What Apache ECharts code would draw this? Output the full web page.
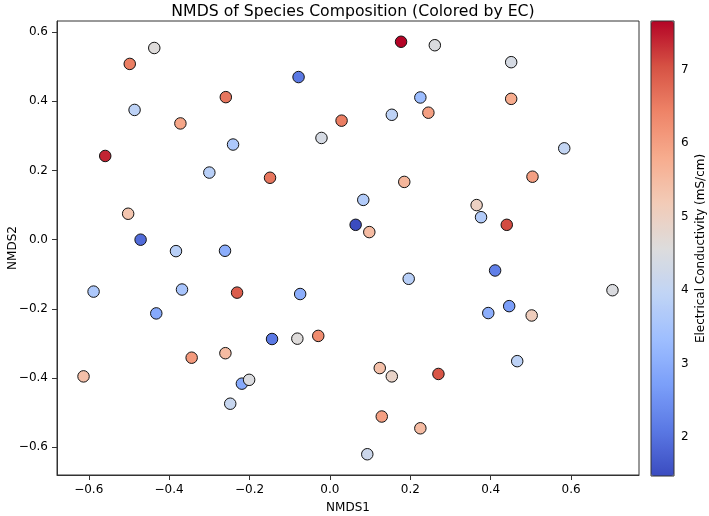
<!DOCTYPE html>
<html>
<head>
<meta charset="utf-8">
<script src="https://cdn.jsdelivr.net/npm/echarts@6/dist/echarts.min.js"></script>
<style>
  html, body { margin: 0; padding: 0; background: #fff; }
  #chart { width: 709px; height: 516px; }
</style>
</head>
<body>
<div id="chart"></div>
<script>
// NMDS coordinates and electrical conductivity per sample
const nmds1 = [
  -0.613, -0.588, -0.559, -0.498, -0.502, -0.486, -0.471, -0.437, -0.432, -0.383,
  -0.372, -0.368, -0.344, -0.300, -0.259, -0.261, -0.260, -0.241, -0.231, -0.248,
  -0.219, -0.201, -0.149, -0.144, -0.078, -0.074, -0.081, -0.021, -0.029, 0.029,
  0.064, 0.083, 0.098, 0.093, 0.124, 0.129, 0.154, 0.154, 0.177, 0.185,
  0.196, 0.225, 0.225, 0.245, 0.261, 0.270, 0.365, 0.376, 0.394, 0.411,
  0.440, 0.446, 0.451, 0.451, 0.466, 0.504, 0.502, 0.583, 0.703
];
const nmds2 = [
  -0.395, -0.150, 0.242, 0.508, 0.075, 0.375, 0.000, 0.554, -0.213, -0.033,
  0.336, -0.144, -0.341, 0.194, 0.412, -0.032, -0.328, 0.275, -0.153, -0.474,
  -0.416, -0.405, 0.179, -0.287, 0.470, -0.157, -0.286, 0.294, -0.278, 0.344,
  0.043, 0.115, 0.022, -0.620, -0.371, -0.511, -0.395, 0.361, 0.572, 0.167,
  -0.113, 0.411, -0.545, 0.367, 0.562, -0.388, 0.100, 0.065, -0.212, -0.089,
  0.043, -0.192, 0.513, 0.407, -0.351, 0.182, -0.219, 0.264, -0.146
];
const ec = [
  5.4, 3.6, 7.4, 6.5, 5.3, 3.9, 1.9, 4.6, 2.9, 3.8,
  5.9, 3.5, 6.1, 3.8, 6.6, 3.0, 5.5, 3.6, 6.9, 4.1,
  2.9, 4.5, 6.6, 2.1, 2.1, 3.0, 4.6, 4.4, 6.3, 6.5,
  1.47, 3.7, 5.5, 4.2, 5.4, 6.0, 4.9, 3.9, 7.66, 5.6,
  3.8, 3.3, 5.5, 6.0, 4.5, 7.0, 5.0, 3.7, 3.0, 2.2,
  7.1, 2.7, 4.4, 5.8, 3.9, 6.0, 5.1, 4.0, 4.5
];
const xTicks = [-0.6, -0.4, -0.2, 0, 0.2, 0.4, 0.6];
const yTicks = [-0.6, -0.4, -0.2, 0, 0.2, 0.4, 0.6];
const ecTicks = [2, 3, 4, 5, 6, 7];
const ecMin = 1.47;
const ecMax = 7.66;

const coolwarm = [
  '#3b4cc0', '#5a78e4', '#7b9ff9', '#9ebeff', '#c0d4f5', '#dddcdc',
  '#f2cbb7', '#f7ac8e', '#ee8468', '#d65244', '#b40426'
];

const points = nmds1.map((x, i) => [x, nmds2[i], ec[i]]);

function fmt(v) {
  const s = Math.abs(v).toFixed(1);
  return v < 0 ? '\u2212' + s : s;
}

const font = 'DejaVu Sans';
const axisColor = '#333';

const chart = echarts.init(document.getElementById('chart'));
chart.setOption({
  animation: false,
  textStyle: { fontFamily: font },
  title: {
    text: 'NMDS of Species Composition (Colored by EC)',
    left: 348,
    top: -1,
    textAlign: 'center',
    textStyle: { fontFamily: font, fontSize: 15.7, fontWeight: 'normal', color: '#000' }
  },
  grid: [
    { left: 57, top: 21, width: 582, height: 454, show: true, borderColor: axisColor, borderWidth: 1, backgroundColor: 'transparent', z: 10, outerBoundsMode: 'none', containLabel: false },
    { left: 651, top: 21, width: 23, height: 455, show: true, borderColor: axisColor, borderWidth: 1, backgroundColor: 'transparent', z: 10, outerBoundsMode: 'none', containLabel: false }
  ],
  xAxis: [
    {
      gridIndex: 0,
      type: 'value',
      min: -0.679,
      max: 0.769,
      name: 'NMDS1',
      nameLocation: 'middle',
      nameGap: 27,
      nameMoveOverlap: false,
      nameTextStyle: { fontFamily: font, fontSize: 12, color: '#000' },
      splitLine: { show: false },
      axisLine: { show: true, onZero: false, lineStyle: { color: axisColor } },
      axisTick: { show: true, inside: false, length: 5, customValues: xTicks, lineStyle: { color: axisColor } },
      axisLabel: { customValues: xTicks, margin: 9, fontSize: 12, color: '#000', fontFamily: font, formatter: fmt }
    },
    { gridIndex: 1, type: 'value', min: 0, max: 1, show: false }
  ],
  yAxis: [
    {
      gridIndex: 0,
      type: 'value',
      min: -0.680,
      max: 0.632,
      name: 'NMDS2',
      nameLocation: 'middle',
      nameGap: 38,
      nameMoveOverlap: false,
      nameRotate: 90,
      nameTextStyle: { fontFamily: font, fontSize: 12, color: '#000' },
      splitLine: { show: false },
      axisLine: { show: true, onZero: false, lineStyle: { color: axisColor } },
      axisTick: { show: true, inside: false, length: 5, customValues: yTicks, lineStyle: { color: axisColor } },
      axisLabel: { customValues: yTicks, margin: 9, fontSize: 12, color: '#000', fontFamily: font, formatter: fmt }
    },
    {
      gridIndex: 1,
      type: 'value',
      position: 'right',
      min: ecMin,
      max: ecMax,
      name: 'Electrical Conductivity (mS/cm)',
      nameLocation: 'middle',
      nameGap: 21,
      nameMoveOverlap: false,
      nameRotate: 90,
      nameTextStyle: { fontFamily: font, fontSize: 12, color: '#000' },
      splitLine: { show: false },
      axisLine: { show: false },
      axisTick: { show: true, inside: false, length: 5, customValues: ecTicks, lineStyle: { color: axisColor } },
      axisLabel: { customValues: ecTicks, margin: 7, fontSize: 12, color: '#000', fontFamily: font }
    }
  ],
  visualMap: {
    type: 'continuous',
    seriesIndex: 0,
    dimension: 2,
    min: ecMin,
    max: ecMax,
    calculable: false,
    realtime: false,
    left: 651,
    top: 21,
    padding: 0,
    itemWidth: 23,
    itemHeight: 455,
    orient: 'vertical',
    inRange: { color: coolwarm }
  },
  series: [
    {
      type: 'scatter',
      xAxisIndex: 0,
      yAxisIndex: 0,
      symbolSize: 11.5,
      itemStyle: { borderColor: '#111', borderWidth: 1, opacity: 1 },
      data: points
    }
  ]
});
</script>
</body>
</html>
